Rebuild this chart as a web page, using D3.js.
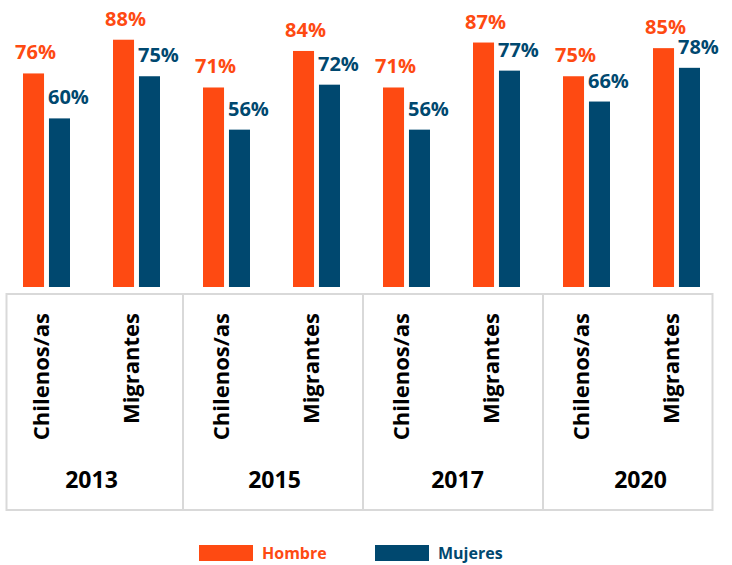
<!DOCTYPE html>
<html>
<head>
<meta charset="utf-8">
<script src="https://cdn.jsdelivr.net/npm/d3@7"></script>
<style>
  body { margin: 0; background: #fff; }
  svg text { font-family: "Open Sans", sans-serif; font-weight: 700; }
</style>
</head>
<body>
<svg id="chart" width="732" height="565"></svg>
<script>
// data
const years = ["2013", "2015", "2017", "2020"];
const groups = ["Chilenos/as", "Migrantes"];
const series = ["Hombre", "Mujeres"];
const hombre = [76, 88, 71, 84, 71, 87, 75, 85];
const mujeres = [60, 75, 56, 72, 56, 77, 66, 78];

const colors = { Hombre: "#FE4A12", Mujeres: "#00486F" };

const rows = [];
years.forEach((yr, i) => {
  groups.forEach((g, j) => {
    const k = i * groups.length + j;
    rows.push({ key: yr + "-" + g, year: yr, group: g, Hombre: hombre[k], Mujeres: mujeres[k] });
  });
});

const svg = d3.select("#chart");

const x0 = d3.scaleBand()
  .domain(rows.map(d => d.key))
  .range([1, 721]);

const x1 = d3.scaleBand()
  .domain(series)
  .range([22, 69])
  .paddingInner(0.19);

const y = d3.scaleLinear()
  .domain([0, 100])
  .range([287, 6]);

// bars
const grp = svg.append("g")
  .selectAll("g")
  .data(rows)
  .join("g")
  .attr("transform", d => `translate(${x0(d.key)},0)`);

grp.selectAll("rect")
  .data(d => series.map(s => ({ s, v: d[s] })))
  .join("rect")
  .attr("x", d => x1(d.s))
  .attr("width", x1.bandwidth())
  .attr("y", d => y(d.v))
  .attr("height", d => y(0) - y(d.v))
  .attr("fill", d => colors[d.s]);

// value labels
grp.selectAll("text.val")
  .data(d => series.map(s => ({ s, v: d[s] })))
  .join("text")
  .attr("class", "val")
  .attr("x", d => d.s === "Hombre" ? x1(d.s) + x1.bandwidth() / 2 + 2 : x1(d.s) - 1)
  .attr("y", d => y(d.v) - 14)
  .attr("text-anchor", d => d.s === "Hombre" ? "middle" : "start")
  .attr("fill", d => colors[d.s])
  .style("font-size", "20px")
  .text(d => d.v + "%");

// table
const border = "#d9d9d9";
svg.append("rect")
  .attr("x", 6.5).attr("y", 294)
  .attr("width", 706).attr("height", 216)
  .attr("fill", "none")
  .attr("stroke", border)
  .attr("stroke-width", 2);

svg.append("g")
  .selectAll("line")
  .data(years.slice(1))
  .join("line")
  .attr("x1", d => x0(d + "-" + groups[0]) + 2)
  .attr("x2", d => x0(d + "-" + groups[0]) + 2)
  .attr("y1", 294).attr("y2", 510)
  .attr("stroke", border)
  .attr("stroke-width", 2);

// category labels
svg.append("g")
  .selectAll("text")
  .data(rows)
  .join("text")
  .attr("transform", d => `translate(${x0(d.key) + x0.bandwidth() / 2 + 3},313) rotate(-90)`)
  .attr("text-anchor", "end")
  .attr("fill", "#000")
  .style("font-size", "22px")
  .text(d => d.group);

// year labels
const xy = d3.scaleBand().domain(years).range([0, 732]);
svg.append("g")
  .selectAll("text")
  .data(years)
  .join("text")
  .attr("x", d => xy(d) + xy.bandwidth() / 2)
  .attr("y", 488)
  .attr("text-anchor", "middle")
  .attr("fill", "#000")
  .style("font-size", "23px")
  .text(d => d);

// legend
const lx = d3.scaleOrdinal().domain(series).range([199, 375]);
const leg = svg.append("g")
  .selectAll("g")
  .data(series)
  .join("g")
  .attr("transform", d => `translate(${lx(d)},545)`);
leg.append("rect")
  .attr("width", 54).attr("height", 16)
  .attr("fill", d => colors[d]);
leg.append("text")
  .attr("x", 63).attr("y", 14)
  .attr("fill", d => colors[d])
  .style("font-size", "16px")
  .text(d => d);
</script>
</body>
</html>
